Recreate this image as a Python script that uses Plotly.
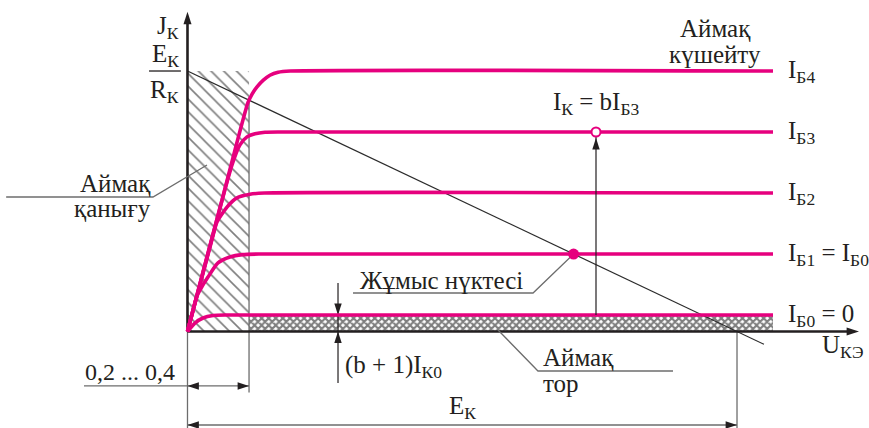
import plotly.graph_objects as go

# ---- circuit parameters (U in V, I in mA) ----
E_K = 10.0            # supply voltage, load line hits U axis here
I_SAT = 4.27          # E_K / R_K, load line hits I axis here
I_LEAK = 0.27         # (b+1) I_K0 leakage level (I_Б0 = 0)
U_SAT = 1.12          # border of the saturation region (0,2 ... 0,4)
U_END = 10.655        # right end of the characteristic curves
U_AXIS_END = 12.22    # tip of the U_KЭ arrow
I_AXIS_END = 5.24     # tip of the J_K arrow

# ---- output characteristics I_K(U_KЭ), one per base current ----
ib4_u = [0, 0.63, 1.10, 1.18, 1.265, 1.38, 1.50, 1.65, 1.87, U_END]
ib4_i = [0, 2.16, 3.75, 3.90, 4.01, 4.12, 4.20, 4.25, 4.27, 4.27]
ib3_u = [0, 0.81, 0.955, 1.083, 1.228, 1.41, 1.68, U_END]
ib3_i = [0, 2.73, 3.06, 3.19, 3.24, 3.265, 3.27, 3.27]
ib2_u = [0, 0.446, 0.537, 0.719, 0.90, 1.137, 1.40, U_END]
ib2_i = [0, 1.507, 1.795, 2.04, 2.19, 2.25, 2.27, 2.27]
ib1_u = [0, 0.173, 0.227, 0.373, 0.555, 0.773, 1.0, 1.3, U_END]
ib1_i = [0, 0.584, 0.68, 0.893, 1.123, 1.22, 1.26, 1.27, 1.27]
ib0_u = [0, 0.136, 0.282, 0.464, 0.72, U_END]
ib0_i = [0, 0.139, 0.221, 0.262, 0.27, 0.27]

curves_u = [ib4_u, ib3_u, ib2_u, ib1_u, ib0_u]
curves_i = [ib4_i, ib3_i, ib2_i, ib1_i, ib0_i]
curve_levels = [4.27, 3.27, 2.27, 1.27, 0.27]
curve_labels = ["I<sub>Б4</sub>", "I<sub>Б3</sub>", "I<sub>Б2</sub>",
                "I<sub>Б1</sub> = I<sub>Б0</sub>", "I<sub>Б0</sub> = 0"]

# operating point on I_Б1 and the amplified point on I_Б3
Q_I = 1.27
Q_U = E_K * (1 - Q_I / I_SAT)
AMP_U = 7.434
AMP_I = 3.27

PINK = "#E6007E"
INK = "#231F20"
GREY = "#6d6d6d"
FONT = "Liberation Serif"

fig = go.Figure()


def seg(xs, ys, color=GREY, width=1.3):
    fig.add_trace(go.Scatter(x=xs, y=ys, mode="lines", hoverinfo="skip",
                             line=dict(color=color, width=width)))


def heads(xs, ys, angles, color=INK, size=12):
    fig.add_trace(go.Scatter(x=xs, y=ys, mode="markers", hoverinfo="skip",
                             marker=dict(symbol="arrow", size=size, angle=angles,
                                         color=color, line=dict(width=0))))


def label(x, y, text, size=25, xanchor="center", yanchor="middle"):
    fig.add_annotation(x=x, y=y, text=text, showarrow=False,
                       xanchor=xanchor, yanchor=yanchor,
                       font=dict(family=FONT, size=size, color=INK))


# saturation region (diagonal hatching)
fig.add_trace(go.Scatter(
    x=[0, U_SAT, U_SAT, 0, 0], y=[0, 0, I_SAT, I_SAT, 0],
    mode="none", fill="toself", hoverinfo="skip",
    fillcolor="white",
    fillpattern=dict(shape="\\", size=9, solidity=0.18, fgcolor="black",
                     bgcolor="white", fillmode="overlay")))

# cut-off region (fine cross hatching)
fig.add_trace(go.Scatter(
    x=[U_SAT, U_END, U_END, U_SAT, U_SAT], y=[0, 0, I_LEAK, I_LEAK, 0],
    mode="none", fill="toself", hoverinfo="skip",
    fillcolor="white",
    fillpattern=dict(shape="x", size=5, solidity=0.65, fgcolor="black",
                     bgcolor="white", fillmode="overlay")))

# border of the saturation region, continued as dimension extension
seg([U_SAT, U_SAT], [3.75, -1.0])
# extension lines under the origin and under E_K
seg([0, 0], [0, -1.6])
seg([E_K, E_K], [0, -1.6])

# dimension 0,2 ... 0,4
seg([-1.884, U_SAT], [-0.893, -0.893])
heads([0, U_SAT], [-0.893, -0.893], [270, 90])
label(-0.19, -0.66, "0,2 ... 0,4", size=24, xanchor="right")

# dimension E_K
seg([0, E_K], [-1.533, -1.533])
heads([0, E_K], [-1.533, -1.533], [270, 90])
label(E_K / 2, -1.25, "E<sub>К</sub>")

# dimension (b+1) I_K0
seg([2.739, 2.739], [0.795, -0.844], color=INK, width=1.2)
heads([2.739, 2.739], [I_LEAK, 0], [180, 0])
label(2.83, -0.57, "(b + 1)I<sub>К0</sub>", xanchor="left")

# load line
seg([0, 10.49], [I_SAT, I_SAT * (1 - 10.49 / E_K)], color="#2b2b2b", width=1.2)

# axes
seg([0, 0], [0, I_AXIS_END - 0.1], color=INK, width=2.6)
seg([0, U_AXIS_END - 0.1], [0, 0], color=INK, width=2.6)
heads([0, U_AXIS_END], [I_AXIS_END, 0], [0, 90], size=13)

# characteristic curves
for cu, ci in zip(curves_u, curves_i):
    fig.add_trace(go.Scatter(x=cu, y=ci, mode="lines", hoverinfo="skip",
                             line=dict(color=PINK, width=3.6, shape="spline",
                                       smoothing=0.6)))

# arrow from I_Б0 up to the amplified point
seg([AMP_U, AMP_U], [I_LEAK, 3.2], color=INK, width=1.2)
heads([AMP_U], [3.172], [0])
fig.add_trace(go.Scatter(x=[AMP_U], y=[AMP_I], mode="markers", hoverinfo="skip",
                         marker=dict(size=9, color="white",
                                     line=dict(color=PINK, width=2))))

# leader lines
seg([-3.30, -0.628, 0.355], [2.205, 2.205, 2.73])
seg([3.012, 6.288, Q_U], [0.631, 0.631, Q_I])
seg([5.651, 6.378, 8.835], [0.025, -0.648, -0.648])

# operating point
fig.add_trace(go.Scatter(x=[Q_U], y=[Q_I], mode="markers", hoverinfo="skip",
                         marker=dict(size=11, color=PINK)))

# axis titles
label(-0.118, 4.99, "J<sub>К</sub>", xanchor="right")
label(-0.118, 4.52, "E<sub>К</sub>", xanchor="right")
seg([-0.70, -0.12], [I_SAT, I_SAT], color=INK, width=1.3)
label(-0.118, 3.94, "R<sub>К</sub>", xanchor="right")
label(11.51, -0.25, "U<sub>КЭ</sub>", xanchor="left")

# curve labels
for lv, txt in zip(curve_levels, curve_labels):
    label(10.89, lv - 0.01, txt, xanchor="left")

# region and point captions
label(9.6, 4.97, "Аймақ")
label(9.6, 4.54, "күшейту")
label(7.45, 3.73, "I<sub>К</sub> = bI<sub>Б3</sub>")
label(-0.628, 2.43, "Аймақ", xanchor="right")
label(-0.628, 2.01, "қанығу", xanchor="right")
label(3.103, 0.83, "Жұмыс нүктесі", xanchor="left")
label(6.433, -0.43, "Аймақ", xanchor="left")
label(6.433, -0.86, "тор", xanchor="left")

fig.update_layout(
    width=869, height=428,
    margin=dict(l=0, r=0, t=0, b=0),
    paper_bgcolor="white", plot_bgcolor="white",
    showlegend=False,
    font=dict(family=FONT, color=INK),
    xaxis=dict(range=[-3.412, 12.402], visible=False, fixedrange=True),
    yaxis=dict(range=[-1.582, 5.434], visible=False, fixedrange=True),
)

fig.write_html("out.html", config={"displayModeBar": False})
